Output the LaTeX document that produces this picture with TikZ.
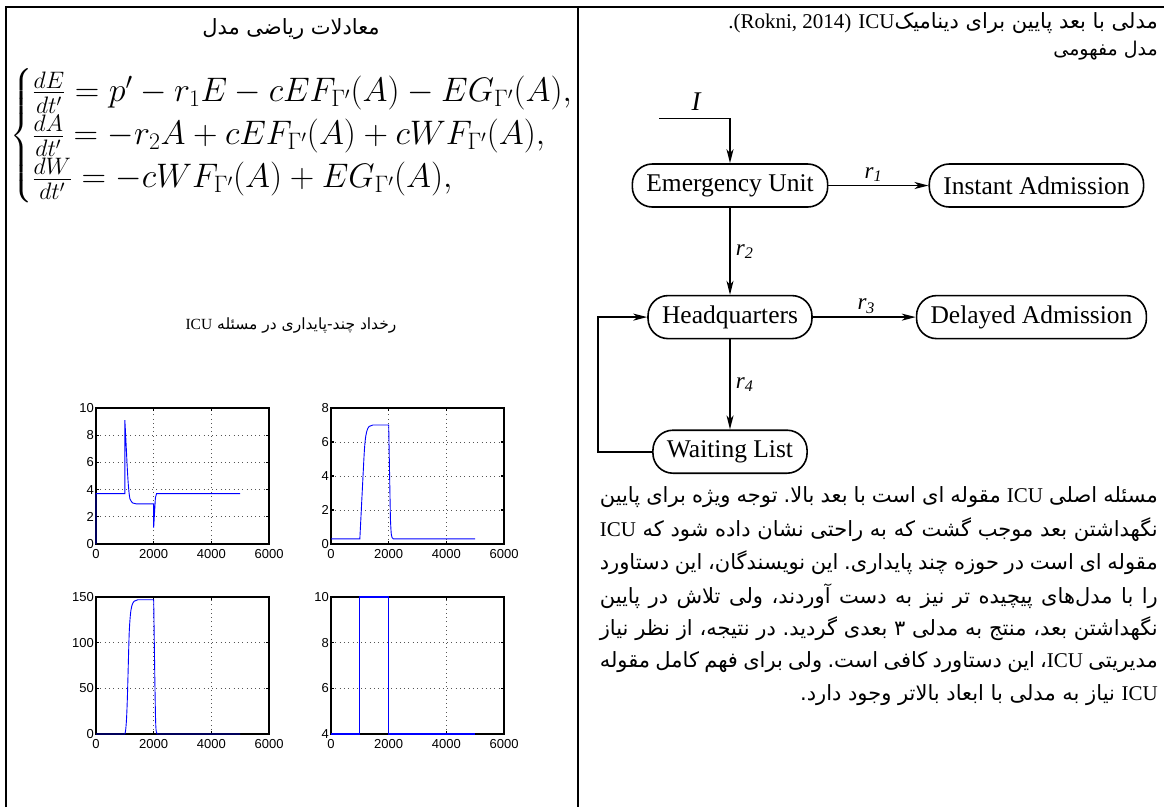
\documentclass[tikz,border=0pt]{standalone}
\usepackage{fix-cm}
\usepackage{amsmath}
\usepackage{fontspec}
\setmainfont{Liberation Serif}
\newfontfamily\farsi[Script=Arabic]{DejaVu Sans}
\newfontfamily\plotfont{Liberation Sans}
\TeXXeTstate=1
\usepackage{xcolor}
\definecolor{PlotBlue}{HTML}{0000FF}
\definecolor{GridGray}{HTML}{555555}
\usetikzlibrary{arrows.meta,positioning}
\newcommand\lat[1]{\beginL{\rmfamily #1}\endL}
\newcommand\justline[1]{\hbox to 558pt{\beginR #1\endR}}
\frenchspacing

\begin{document}
\begin{tikzpicture}[x=1pt,y=-1pt,
  box/.style={draw,line width=1.6pt,rounded corners=20pt,minimum height=43pt,inner xsep=14pt,font=\fontsize{25.5}{28}\selectfont},
  arrow/.style={-{Stealth[length=14pt,width=7pt,inset=4pt]},line width=1.6pt},
  rate/.style={font=\fontsize{23}{24}\selectfont\itshape,inner sep=3pt},
  rule/.style={line width=2.4pt},
  gridline/.style={dash pattern=on 0.8pt off 3.5pt,line width=0.8pt,draw=GridGray},
  frame/.style={line width=1.1pt},
  curve/.style={draw=PlotBlue,line width=0.9pt},
  ticklab/.style={font=\plotfont\fontsize{13}{13}\selectfont,inner sep=2pt},
  fatext/.style={font=\farsi\fontsize{21}{24}\selectfont,inner sep=0pt}
]
  \useasboundingbox (0,0) rectangle (1164,807);

  % table rules
  \draw[rule] (6,807) -- (6,7) -- (1164,7);
  \draw[rule] (578,7) -- (578,807);

  % left column: equations
  \node[fatext] (ttlL) at (291,29) {\beginR معادلات ریاضی مدل\endR};
  \node[anchor=west,inner sep=0pt] (eqs) at (10,136) {\fontsize{34}{36}\selectfont$\begin{cases}
      \frac{dE}{dt'} = p' - r_1E - cEF_{\Gamma'}(A) - EG_{\Gamma'}(A),\\
      \frac{dA}{dt'} = -r_2A + cEF_{\Gamma'}(A) + cWF_{\Gamma'}(A),\\
      \frac{dW}{dt'} = -cWF_{\Gamma'}(A) + EG_{\Gamma'}(A),
    \end{cases}$};
  \node[fatext,font=\farsi\fontsize{15.5}{18}\selectfont] (ttlP) at (291,325) {\beginR رخداد چند-پایداری در مسئله \lat{ICU}\endR};

  % plot E
  \begin{scope}[shift={(96,544)},x=0.028833pt,y=13.6pt]
    \foreach \gx in {2000,4000} \draw[gridline] (\gx,0) -- (\gx,10);
    \foreach \gy in {2,4,6,8} \draw[gridline] (0,\gy) -- (6000,\gy);
    \foreach \t in {2000,4000} {\draw[frame] (\t,0) -- ++(0,3pt); \draw[frame] (\t,10) -- ++(0,-3pt);}
    \foreach \t in {2,4,6,8} {\draw[frame] (0,\t) -- ++(3pt,0); \draw[frame] (6000,\t) -- ++(-3pt,0);}
    \draw[frame] (0,0) rectangle (6000,10);
    \foreach \t in {0,2000,4000,6000} \node[ticklab,below,yshift=-3pt] (ex\t) at (\t,0) {\t};
    \foreach \t in {0,2,...,10} \node[ticklab,left] (ey\t) at (0,\t) {\t};
    \draw[curve] (0,0) -- (0,3.7) -- (1000,3.7) -- (1000,9.1)
      .. controls (1060,7) and (1100,4) .. (1180,3.3)
      .. controls (1250,3.0) and (1300,2.95) .. (1400,2.95)
      -- (2000,2.95) -- (2000,1.2) -- (2060,3.4) -- (2100,3.7) -- (5000,3.7);
  \end{scope}

  % plot A
  \begin{scope}[shift={(331,544)},x=0.028833pt,y=17pt]
    \foreach \gx in {2000,4000} \draw[gridline] (\gx,0) -- (\gx,8);
    \foreach \gy in {2,4,6} \draw[gridline] (0,\gy) -- (6000,\gy);
    \foreach \t in {2000,4000} {\draw[frame] (\t,0) -- ++(0,3pt); \draw[frame] (\t,8) -- ++(0,-3pt);}
    \foreach \t in {2,4,6} {\draw[frame] (0,\t) -- ++(3pt,0); \draw[frame] (6000,\t) -- ++(-3pt,0);}
    \draw[frame] (0,0) rectangle (6000,8);
    \foreach \t in {0,2000,4000,6000} \node[ticklab,below,yshift=-3pt] (ax\t) at (\t,0) {\t};
    \foreach \t in {0,2,...,8} \node[ticklab,left] (ay\t) at (0,\t) {\t};
    \draw[curve] (0,0.3) -- (1000,0.3) -- (1140,5)
      .. controls (1190,6.6) and (1240,7) .. (1450,7) -- (2000,7) -- (2060,1.5)
      .. controls (2090,0.4) .. (2160,0.3) -- (5000,0.3);
  \end{scope}

  % plot W
  \begin{scope}[shift={(96,734)},x=0.028833pt,y=0.91333pt]
    \foreach \gx in {2000,4000} \draw[gridline] (\gx,0) -- (\gx,150);
    \foreach \gy in {50,100} \draw[gridline] (0,\gy) -- (6000,\gy);
    \foreach \t in {2000,4000} {\draw[frame] (\t,0) -- ++(0,3pt); \draw[frame] (\t,150) -- ++(0,-3pt);}
    \foreach \t in {50,100} {\draw[frame] (0,\t) -- ++(3pt,0); \draw[frame] (6000,\t) -- ++(-3pt,0);}
    \draw[frame] (0,0) rectangle (6000,150);
    \foreach \t in {0,2000,4000,6000} \node[ticklab,below,yshift=-3pt] (wx\t) at (\t,0) {\t};
    \foreach \t in {0,50,100,150} \node[ticklab,left] (wy\t) at (0,\t) {\t};
    \draw[curve] (0,0) -- (1000,0) .. controls (1080,5) and (1100,60) .. (1150,110)
      .. controls (1200,143) and (1250,146) .. (1450,147) -- (2000,147) -- (2040,60)
      .. controls (2070,3) .. (2120,0) -- (5000,0);
  \end{scope}

  % plot pulse
  \begin{scope}[shift={(331,734)},x=0.028833pt,y=22.8333pt,shift={(0,-4)}]
    \foreach \gx in {2000,4000} \draw[gridline] (\gx,4) -- (\gx,10);
    \foreach \gy in {6,8} \draw[gridline] (0,\gy) -- (6000,\gy);
    \foreach \t in {2000,4000} {\draw[frame] (\t,4) -- ++(0,3pt); \draw[frame] (\t,10) -- ++(0,-3pt);}
    \foreach \t in {6,8} {\draw[frame] (0,\t) -- ++(3pt,0); \draw[frame] (6000,\t) -- ++(-3pt,0);}
    \draw[frame] (0,4) rectangle (6000,10);
    \foreach \t in {0,2000,4000,6000} \node[ticklab,below,yshift=-3pt] (px\t) at (\t,4) {\t};
    \foreach \t in {4,6,8,10} \node[ticklab,left] (py\t) at (0,\t) {\t};
    \draw[curve,line width=1.3pt] (0,4) -- (1000,4) -- (1000,10) -- (2000,10) -- (2000,4) -- (5000,4);
  \end{scope}

  % right column: conceptual model
  \node[fatext,anchor=east] (ttlR) at (1158,23) {\beginR مدلی با بعد پایین برای دینامیک\lat{ICU}\hspace{7pt}\lat{.(Rokni, 2014)}\endR};
  \node[fatext,anchor=east,font=\farsi\fontsize{19}{22}\selectfont] (subR) at (1158,51) {\beginR مدل مفهومی\endR};

  \node[box] (eu) at (730,185.5) {Emergency Unit};
  \node[box,right=100pt of eu] (ia) {Instant Admission};
  \node[box,below=87pt of eu] (hq) {Headquarters};
  \node[box,right=103pt of hq] (da) {Delayed Admission};
  \node[box,below=90pt of hq] (wl) {Waiting List};
  \coordinate (src) at (659,118.5);
  \node[rate,font=\fontsize{27}{28}\selectfont\itshape] (inp) at (696,102) {I};

  \draw[arrow] (src) -| (eu.north);
  \draw[arrow] (eu) -- node[rate,above,xshift=-5pt] (r1) {r\textsubscript{1}} (ia);
  \draw[arrow] (eu) -- node[rate,right,xshift=2pt] (r2) {r\textsubscript{2}} (hq);
  \draw[arrow] (hq) -- node[rate,above,xshift=2pt] (r3) {r\textsubscript{3}} (da);
  \draw[arrow] (hq) -- node[rate,right,xshift=2pt] (r4) {r\textsubscript{4}} (wl);
  \draw[arrow] (wl.west) -- ++(-54,0) coordinate (ret) |- (hq.west);

  % right column: discussion
  \node[fatext,anchor=east] (p1) at (1158,497) {\justline{مسئله اصلی \lat{ICU} مقوله ای است با بعد بالا. توجه ویژه برای پایین}};
  \node[fatext,anchor=east] (p2) at (1158,530) {\justline{نگهداشتن بعد موجب گشت که به راحتی نشان داده شود که \lat{ICU}}};
  \node[fatext,anchor=east] (p3) at (1158,563) {\justline{مقوله ای است در حوزه چند پایداری. این نویسندگان، این دستاورد}};
  \node[fatext,anchor=east] (p4) at (1158,596) {\justline{را با مدل‌های پیچیده تر نیز به دست آوردند، ولی تلاش در پایین}};
  \node[fatext,anchor=east] (p5) at (1158,629) {\justline{نگهداشتن بعد، منتج به مدلی ۳ بعدی گردید. در نتیجه، از نظر نیاز}};
  \node[fatext,anchor=east] (p6) at (1158,662) {\justline{مدیریتی \lat{ICU}، این دستاورد کافی است. ولی برای فهم کامل مقوله}};
  \node[fatext,anchor=east] (p7) at (1158,695) {\beginR\lat{ICU} نیاز به مدلی با ابعاد بالاتر وجود دارد.\endR};
\end{tikzpicture}
\end{document}
